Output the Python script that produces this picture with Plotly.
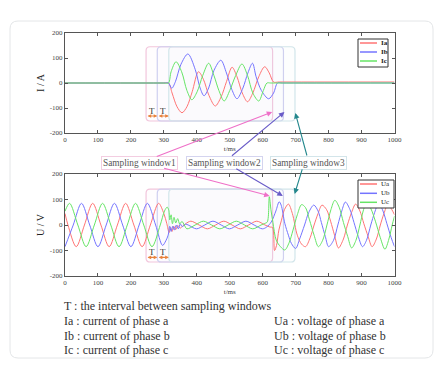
import plotly.graph_objects as go

# page body has an 8px margin, so the figure is laid out 8px in from the window edge
OFF = 8
W, H = 443 - 2 * OFF, 367 - 2 * OFF
FONT = "Liberation Serif"

# ---- data (t in ms, value) ----
IA = [(0, 0), (300, 0), (314, 0), (325, -40), (340, -95), (355, -119), (370, -95), (386, -35),
      (405, 45), (420, 15), (437, -50), (456, -92), (474, -55), (490, 5), (507, 63), (522, 25),
      (538, -40), (554, -75), (570, -40), (588, 25), (606, 65), (620, 40), (633, 4), (650, 4), (1000, 4)]
IB = [(0, 0), (300, 0), (314, 0), (324, -21), (335, 5), (352, 75), (373, 116), (395, 55),
      (410, -20), (422, -51), (436, -20), (452, 50), (473, 91), (490, 40), (506, -25), (522, -63),
      (540, -20), (555, 40), (569, 79), (580, 25), (596, -30), (618, -63), (633, -40), (645, 0),
      (660, 0), (1000, 0)]
IC = [(0, 0), (300, 0), (314, 0), (322, 45), (337, 85), (354, 45), (370, -30), (385, -67),
      (401, -35), (418, 30), (436, 79), (452, 30), (467, -30), (483, -72), (500, -30), (518, 30),
      (537, 76), (554, 30), (570, -40), (588, -72), (602, -30), (613, 0), (625, 0), (1000, 0)]

UA = [(0, 45), (9, 0), (34, -85), (59, 0), (84, 85), (109, 0), (134, -85), (159, 0), (184, 85),
      (209, 0), (234, -85), (259, 0), (284, 85), (300, 45), (309, 5), (316, -30), (320, -10),
      (325, -25), (330, -5), (336, -18), (342, -2), (350, -12), (358, -3), (366, 5), (382, 15),
      (407, 0), (432, -15), (457, 0), (482, 15), (507, 0), (532, -15), (557, 0), (582, 15),
      (607, 0), (622, -8), (630, -10), (636, -100), (642, -80), (649, -20), (657, 19), (666, 60),
      (678, 82), (690, 45), (705, -40), (718, -75), (730, -85), (744, -50), (756, 0), (768, 45),
      (780, 78), (794, 60), (806, 15), (818, -40), (830, -90), (845, -55), (857, 0), (870, 50),
      (882, 82), (895, 55), (907, 5), (920, -45), (932, -85), (945, -55), (957, 0), (968, 45),
      (980, 80), (992, 60), (1000, 40)]
UB = [(0, -85), (25, 0), (50, 85), (75, 0), (100, -85), (125, 0), (150, 85), (175, 0), (200, -85),
      (225, 0), (250, 85), (275, 0), (296, -80), (306, -62), (313, -40), (318, -5), (322, -25),
      (327, -5), (332, -20), (338, 0), (344, -15), (350, 4), (356, -6), (366, 3), (374, 0),
      (399, -15), (424, 0), (449, 15), (474, 0), (499, -15), (524, 0), (549, 15), (574, 0),
      (599, -15), (612, -8), (626, 12), (640, 55), (650, 91), (656, 78), (667, 7), (678, -40),
      (687, -72), (700, -92), (712, -55), (727, 0), (740, 50), (755, 78), (768, 55), (778, 10),
      (790, -45), (800, -85), (815, -60), (828, 0), (840, 55), (851, 90), (865, 60), (877, 10),
      (890, -45), (903, -85), (915, -60), (928, 0), (940, 50), (952, 86), (965, 55), (977, 5),
      (990, -50), (1000, -85)]
UC = [(0, 54), (14, 85), (39, 0), (64, -85), (89, 0), (114, 85), (139, 0), (164, -85), (189, 0),
      (214, 85), (239, 0), (264, -85), (289, 0), (302, 55), (310, 70), (315, 58), (318, 20),
      (322, 40), (326, 5), (331, 30), (336, 8), (342, 25), (348, 4), (355, 14), (362, 0),
      (370, -15), (395, 0), (420, 15), (445, 0), (470, -15), (495, 0), (520, 15), (545, 0),
      (570, -15), (595, 0), (606, 6), (614, 12), (620, 111), (625, 60), (631, 10), (641, -59),
      (654, -85), (667, -98), (680, -70), (692, -20), (705, 40), (718, 80), (730, 68), (742, 20),
      (756, -40), (769, -85), (782, -60), (795, 0), (807, 60), (819, 97), (832, 70), (845, 10),
      (858, -45), (870, -90), (883, -60), (895, 0), (905, 55), (915, 90), (928, 65), (942, 15),
      (957, -50), (971, -95), (983, -55), (993, 0), (1000, 35)]

x_ticks = list(range(0, 1001, 100))
y_ticks = [-200, -100, 0, 100, 200]
y_ticklabels = ["-200", "-100", "0", "100", "200"]

windows = [(246, 630), (280, 663), (315, 698)]      # sampling windows (ms)
win_names = ["Sampling window1", "Sampling window2", "Sampling window3"]

RED, BLUE, GREEN = "#ff7474", "#7474ff", "#66e466"


def px(x):
    return (x - OFF) / W


def py(y):
    return 1 - (y - OFF) / H


def rrect(x0, y0, x1, y1, rx, ry):
    return (f"M {x0+rx},{y0} L {x1-rx},{y0} Q {x1},{y0} {x1},{y0+ry} "
            f"L {x1},{y1-ry} Q {x1},{y1} {x1-rx},{y1} L {x0+rx},{y1} "
            f"Q {x0},{y1} {x0},{y1-ry} L {x0},{y0+ry} Q {x0},{y0} {x0+rx},{y0} Z")


fig = go.Figure()
for pts, name, col, ax in [(IA, "Ia", RED, "1"), (IB, "Ib", BLUE, "1"), (IC, "Ic", GREEN, "1"),
                           (UA, "Ua", RED, "2"), (UB, "Ub", BLUE, "2"), (UC, "Uc", GREEN, "2")]:
    fig.add_trace(go.Scatter(
        x=[p[0] for p in pts], y=[p[1] for p in pts], name=name,
        mode="lines", line=dict(color=col, width=1, shape="spline", smoothing=0.9),
        xaxis="x" if ax == "1" else "x2", yaxis="y" if ax == "1" else "y2",
        showlegend=False, hoverinfo="skip",
    ))

axis_common = dict(
    showline=True, linecolor="#555", linewidth=1, mirror="ticks",
    ticks="inside", ticklen=3, tickcolor="#555", showgrid=False, zeroline=False,
    tickfont=dict(family=FONT, size=7, color="#444"), automargin=False,
)

fig.update_layout(
    width=W, height=H, margin=dict(l=0, r=0, t=0, b=0),
    paper_bgcolor="white", plot_bgcolor="white", showlegend=False,
    font=dict(family=FONT),
    xaxis=dict(domain=[px(65), px(394.5)], range=[0, 1000], tickvals=x_ticks,
               anchor="y", title=dict(text="t/ms", font=dict(size=7, color="#444"), standoff=2),
               **axis_common),
    yaxis=dict(domain=[py(133), py(33)], range=[-200, 200], tickvals=y_ticks,
               ticktext=y_ticklabels, anchor="x",
               title=dict(text="I / A", font=dict(size=10, color="#222"), standoff=3),
               **axis_common),
    xaxis2=dict(domain=[px(65), px(394.5)], range=[0, 1000], tickvals=x_ticks,
                anchor="y2", title=dict(text="t/ms", font=dict(size=7, color="#444"), standoff=2),
                **axis_common),
    yaxis2=dict(domain=[py(276), py(174)], range=[-200, 200], tickvals=y_ticks,
                ticktext=y_ticklabels, anchor="x2",
                title=dict(text="U / V", font=dict(size=10, color="#222"), standoff=3),
                **axis_common),
)

# card border
fig.add_shape(type="path", xref="paper", yref="paper", layer="below",
              path=rrect(px(10), py(358), px(433), py(21), 8 / W, 8 / H),
              line=dict(color="#e4e6e8", width=1), fillcolor="white")

# sampling windows
win_line = ["#f2c6dc", "#cfcff0", "#d2e5ea"]
win_fill = ["rgba(250,215,235,0.05)", "rgba(215,215,250,0.05)", "rgba(220,238,244,0.06)"]
for xr, yr, ylims in [("x", "y", (-152, 145)), ("x2", "y2", (-145, 141))]:
    for (a, b), lc, fc in zip(windows, win_line, win_fill):
        fig.add_shape(type="path", xref=xr, yref=yr, layer="below",
                      path=rrect(a, ylims[0], b, ylims[1], 12, 16),
                      line=dict(color=lc, width=1.2), fillcolor=fc)

# T intervals
for xr, yr, yarr, ytxt in [("x", "y", -132, -110), ("x2", "y2", -127, -106)]:
    for a, b in [(windows[0][0], windows[1][0]), (windows[1][0], windows[2][0])]:
        fig.add_annotation(x=b, y=yarr, ax=a, ay=yarr, xref=xr, yref=yr, axref=xr, ayref=yr,
                           text="", showarrow=True, arrowside="end+start", arrowhead=2,
                           startarrowhead=2, arrowsize=0.6, startarrowsize=0.6,
                           arrowwidth=1.2, arrowcolor="#e8823c")
        fig.add_annotation(x=(a + b) / 2, y=ytxt, xref=xr, yref=yr, text="T", showarrow=False,
                           font=dict(family=FONT, size=9, color="#333"))

# sampling window labels
lbl_x = [139, 224, 308.5]
lbl_border = ["#f3cde1", "#d4d4ef", "#d3e5ea"]
for name, x, bc in zip(win_names, lbl_x, lbl_border):
    fig.add_annotation(x=px(x), y=py(162.5), xref="paper", yref="paper", text=name,
                       showarrow=False, xanchor="center", yanchor="middle",
                       font=dict(family=FONT, size=9.3, color="#555"),
                       bordercolor=bc, borderwidth=1, borderpad=1, bgcolor="white")

# pointing arrows (head in data coords, tail as pixel offset)
arrows = [
    ("x", "y", 629, -116, -117, 45, "#ef70c8"),
    ("x2", "y2", 621, 114, -107, -28, "#ef70c8"),
    ("x", "y", 666, -116, -54, 45, "#6a5cc8"),
    ("x2", "y2", 661, 114, -48, -28, "#6a5cc8"),
    ("x", "y", 699, -120, 12, 44, "#23878c"),
    ("x2", "y2", 697, 122, 8, -26, "#23878c"),
]
for xr, yr, x, y, ax, ay, c in arrows:
    fig.add_annotation(x=x, y=y, xref=xr, yref=yr, ax=ax, ay=ay, text="", showarrow=True,
                       arrowhead=2, arrowsize=1, arrowwidth=1.1, arrowcolor=c)

# legends drawn by hand (compact boxes as in the figure)
for box, rows, names, bold in [((358, 39, 388, 67), [43, 52, 61], ["Ia", "Ib", "Ic"], True),
                               ((358, 180, 394, 208), [184, 193.3, 202.3], ["Ua", "Ub", "Uc"], False)]:
    x0, y0, x1, y1 = box
    fig.add_shape(type="rect", xref="paper", yref="paper", x0=px(x0), x1=px(x1),
                  y0=py(y1), y1=py(y0), line=dict(color="#333", width=1), fillcolor="white")
    for r, n, c in zip(rows, names, [RED, BLUE, GREEN]):
        fig.add_shape(type="line", xref="paper", yref="paper", x0=px(x0 + 2), x1=px(x0 + 19),
                      y0=py(r), y1=py(r), line=dict(color=c, width=1.5))
        fig.add_annotation(x=px(x0 + 21), y=py(r), xref="paper", yref="paper",
                           text=f"<b>{n}</b>" if bold else n, showarrow=False,
                           xanchor="left", yanchor="middle",
                           font=dict(family=FONT, size=7, color="#222"))

# footnotes
notes_left = ["T : the interval between sampling windows", "Ia : current of phase a",
              "Ib : current of phase b", "Ic : current of phase c"]
notes_right = ["Ua : voltage of phase a", "Ub : voltage of phase b", "Uc : voltage of phase c"]
for i, t in enumerate(notes_left):
    fig.add_annotation(x=px(62), y=py([306, 321, 335.5, 350][i]), xref="paper", yref="paper",
                       text=t, showarrow=False, xanchor="left", yanchor="middle",
                       font=dict(family=FONT, size=12, color="#333"))
for i, t in enumerate(notes_right):
    fig.add_annotation(x=px(272), y=py([321, 335.5, 350][i]), xref="paper", yref="paper",
                       text=t, showarrow=False, xanchor="left", yanchor="middle",
                       font=dict(family=FONT, size=12, color="#333"))

fig.write_html("out.html")
